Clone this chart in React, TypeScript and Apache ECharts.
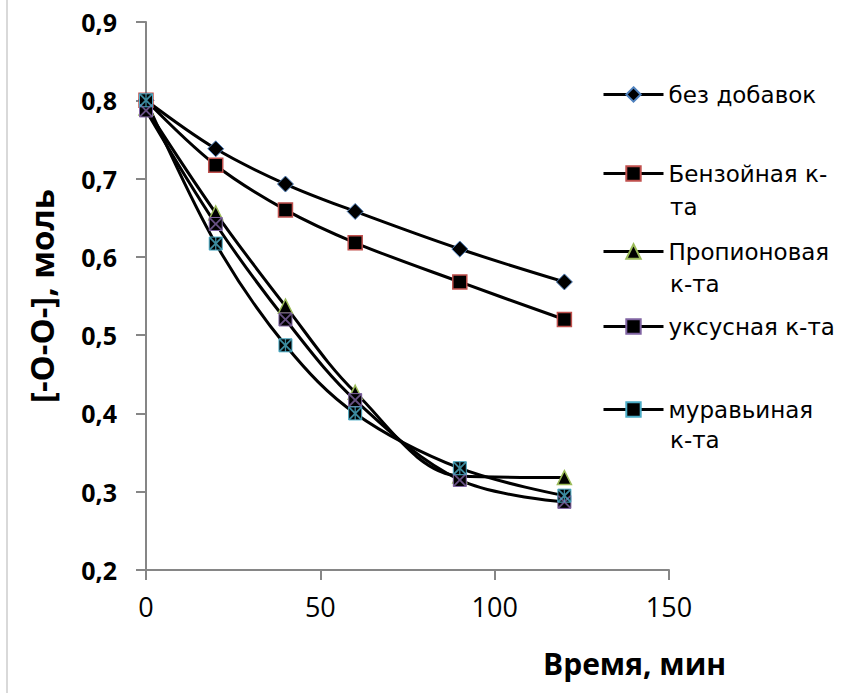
import React, { useEffect, useRef } from "react";
import * as echarts from "echarts";

const timeMin = [0, 20, 40, 60, 90, 120];
const seriesNames = ["без добавок", "Бензойная к-та", "Пропионовая к-та", "уксусная к-та", "муравьиная к-та"];
const bezDobavok = [0.8, 0.738, 0.693, 0.658, 0.61, 0.568];
const benzoic = [0.8, 0.717, 0.66, 0.618, 0.568, 0.52];
const propionic = [0.79, 0.656, 0.537, 0.427, 0.32, 0.318];
const acetic = [0.787, 0.642, 0.52, 0.417, 0.315, 0.287];
const formic = [0.8, 0.617, 0.487, 0.4, 0.33, 0.295];
const yTicks = [0.2, 0.3, 0.4, 0.5, 0.6, 0.7, 0.8, 0.9];
const xTicks = [0, 50, 100, 150];

const FONT = "Open Sans";
const LEGEND_FONT = "DejaVu Sans";
const BLUE = "#4F81BD";
const RED = "#C0504D";
const GREEN = "#9BBB59";
const PURPLE = "#8064A2";
const CYAN = "#4BACC6";

const X_PATH = "path://M0,0L2,0L10,8L18,0L20,0L20,2L12,10L20,18L20,20L18,20L10,12L2,20L0,20L0,18L8,10L0,2Z";
const AST_PATH = X_PATH + "M9,0L11,0L11,20L9,20Z";

function pairs(ys: number[]) {
  return timeMin.map((x, i) => [x, ys[i]]);
}

export default function App() {
  const ref = useRef<HTMLDivElement>(null);
  useEffect(() => {
    if (!ref.current) return;
    const chart = echarts.init(ref.current, null, { renderer: "svg" });
    const lineBase = {
      type: "line",
      smooth: 0.35,
      lineStyle: { color: "#000", width: 3 },
      z: 2,
    };
    const legendFirst = ["без добавок", "Бензойная к-", "Пропионовая", "уксусная к-та", "муравьиная"];
    const legendTops = [95, 174, 252, 327, 410];
    const legends = seriesNames.map((n, i) => ({
      data: [n],
      left: 597,
      top: legendTops[i] - 17,
      itemWidth: 60,
      itemHeight: 18,
      itemGap: 0,
      selectedMode: false,
      lineStyle: { color: "#000", width: 3 },
      formatter: () => legendFirst[i],
      textStyle: { fontFamily: LEGEND_FONT, fontSize: 23, color: "#000" },
    }));
    const second = [
      { t: "та", y: 210 },
      { t: "к-та", y: 287 },
      { t: "к-та", y: 443 },
    ];
    chart.setOption({
      animation: false,
      backgroundColor: "#fff",
      grid: { left: 146, right: 187, top: 22, bottom: 123, containLabel: false },
      legend: legends,
      xAxis: {
        type: "value",
        min: 0,
        max: 150,
        interval: 50,
        splitLine: { show: false },
        axisLine: { show: true, onZero: false, lineStyle: { color: "#868686", width: 2 } },
        axisTick: { show: true, length: 10, lineStyle: { color: "#868686", width: 2 } },
        axisLabel: {
          margin: 23,
          fontFamily: FONT,
          fontSize: 27,
          color: "#000",
          formatter: (v: number) => (xTicks.indexOf(v) >= 0 ? String(v) : ""),
        },
      },
      yAxis: {
        type: "value",
        min: 0.2,
        max: 0.9,
        interval: 0.1,
        splitLine: { show: false },
        name: "[-O-O-], моль",
        nameLocation: "middle",
        nameGap: 88,
        nameTextStyle: { fontFamily: FONT, fontSize: 33, fontWeight: "bold", color: "#000" },
        axisLine: { show: true, lineStyle: { color: "#868686", width: 2 } },
        axisTick: { show: true, length: 10, lineStyle: { color: "#868686", width: 2 } },
        axisLabel: {
          margin: 29,
          fontFamily: FONT,
          fontSize: 25,
          fontWeight: "bold",
          color: "#000",
          formatter: (v: number) => {
            const t = yTicks.find((y) => Math.abs(y - v) < 1e-6);
            return t === undefined ? "" : t.toFixed(1).replace(".", ",");
          },
        },
      },
      graphic: [
        { type: "line", shape: { x1: 7, y1: 0, x2: 7, y2: 693 }, style: { stroke: "#d9d9d9", lineWidth: 2 } },
        {
          type: "text",
          left: 543,
          top: 648,
          style: { text: "Время, мин", fontFamily: FONT, fontSize: 30, fontWeight: "bold", fill: "#000" },
        },
        ...second.map((s) => ({
          type: "text",
          left: 670,
          top: s.y - 15,
          style: { text: s.t, fontFamily: LEGEND_FONT, fontSize: 23, fill: "#000" },
        })),
      ],
      series: [
        {
          ...lineBase,
          name: seriesNames[0],
          data: pairs(bezDobavok),
          symbol: "diamond",
          symbolSize: 16,
          itemStyle: { color: "#000", borderColor: BLUE, borderWidth: 1 },
        },
        {
          ...lineBase,
          name: seriesNames[1],
          data: pairs(benzoic),
          symbol: "rect",
          symbolSize: 14,
          itemStyle: { color: "#000", borderColor: RED, borderWidth: 1.5 },
        },
        {
          ...lineBase,
          name: seriesNames[2],
          data: pairs(propionic),
          symbol: "triangle",
          symbolSize: 14,
          itemStyle: { color: "#000", borderColor: GREEN, borderWidth: 1.5 },
        },
        {
          ...lineBase,
          name: seriesNames[3],
          data: pairs(acetic),
          symbol: "rect",
          symbolSize: 13,
          itemStyle: { color: "#000", borderColor: PURPLE, borderWidth: 1 },
        },
        {
          ...lineBase,
          name: seriesNames[4],
          data: pairs(formic),
          symbol: "rect",
          symbolSize: 13,
          itemStyle: { color: "#000", borderColor: CYAN, borderWidth: 1 },
        },
        {
          type: "scatter",
          name: "acetic-mark",
          data: pairs(acetic),
          symbol: X_PATH,
          symbolSize: 13,
          itemStyle: { color: PURPLE },
          z: 4,
          silent: true,
        },
        {
          type: "scatter",
          name: "formic-mark",
          data: pairs(formic),
          symbol: AST_PATH,
          symbolSize: 13,
          itemStyle: { color: CYAN },
          z: 5,
          silent: true,
        },
      ],
    });
    return () => chart.dispose();
  }, []);
  return (
    <div
      ref={ref}
      style={{ position: "fixed", left: 0, top: 0, width: 856, height: 693, background: "#fff" }}
    />
  );
}
